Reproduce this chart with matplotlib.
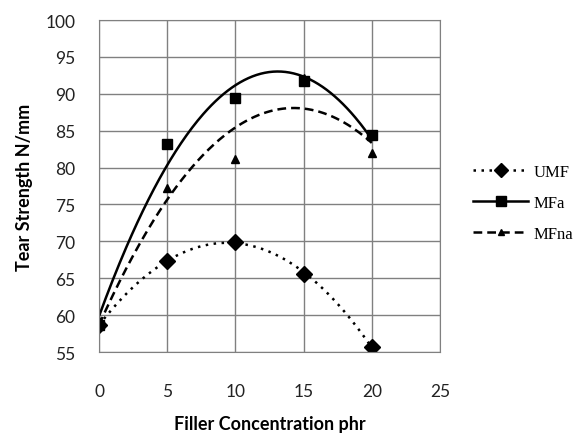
import numpy as np
import matplotlib
matplotlib.use("Agg")
import matplotlib.pyplot as plt
from matplotlib.lines import Line2D

# data
filler_phr = [0, 5, 10, 15, 20]
umf = [58.6, 67.4, 69.9, 65.6, 55.7]
mfa = [58.7, 83.2, 89.4, 91.8, 84.4]
mfna = [58.6, 77.2, 81.2, 92.1, 82.0]

series = [
    ("UMF", umf, "D", ":", 8.5),
    ("MFa", mfa, "s", "-", 7.5),
    ("MFna", mfna, "^", "--", 6),
]


def dash_for(ls):
    if ls == ":":
        return (1, 2.2)
    if ls == "--":
        return (3.5, 2)
    return ()


fig = plt.figure(figsize=(5.8, 4.35), dpi=100)
ax = fig.add_axes([0.1707, 0.1885, 0.5879, 0.7632])

xs = np.linspace(0, 20, 200)
handles = []
for name, vals, marker, ls, ms in series:
    # Excel-style 2nd order polynomial trendline
    coef = np.polyfit(filler_phr, vals, 2)
    ax.plot(xs, np.polyval(coef, xs), color="black", ls=ls, lw=1.8, dashes=dash_for(ls))
    ax.plot(filler_phr, vals, ls="none", marker=marker, ms=ms, color="black")
    handles.append(Line2D([], [], color="black", ls=ls, lw=1.8, marker=marker, ms=ms - 1,
                          dashes=dash_for(ls)))

ax.set_xlim(0, 25)
ax.set_ylim(55, 100)
ax.set_xticks(range(0, 26, 5))
ax.set_yticks(range(55, 101, 5))
ax.grid(True, color="#808080", lw=1)
ax.set_axisbelow(True)
for s in ax.spines.values():
    s.set_color("#808080")
ax.tick_params(axis="x", length=0, labelsize=12.5, pad=22)
ax.tick_params(axis="y", length=0, labelsize=12.5, pad=17)
for lab in ax.get_xticklabels() + ax.get_yticklabels():
    lab.set_fontfamily("Lato")
    lab.set_color("#222222")

ax.set_xlabel("Filler Concentration phr", fontsize=13, fontweight="bold",
              fontfamily="Lato", labelpad=12)
ax.set_ylabel("Tear Strength N/mm", fontsize=13, fontweight="bold",
              fontfamily="Lato", labelpad=9)

leg = fig.legend(handles, [s[0] for s in series], loc="center left",
                 bbox_to_anchor=(0.79, 0.531), frameon=False, handlelength=3.3,
                 handletextpad=0.3, labelspacing=0.9,
                 prop={"family": "Liberation Serif", "size": 12})

fig.savefig("out.png", dpi=100)
